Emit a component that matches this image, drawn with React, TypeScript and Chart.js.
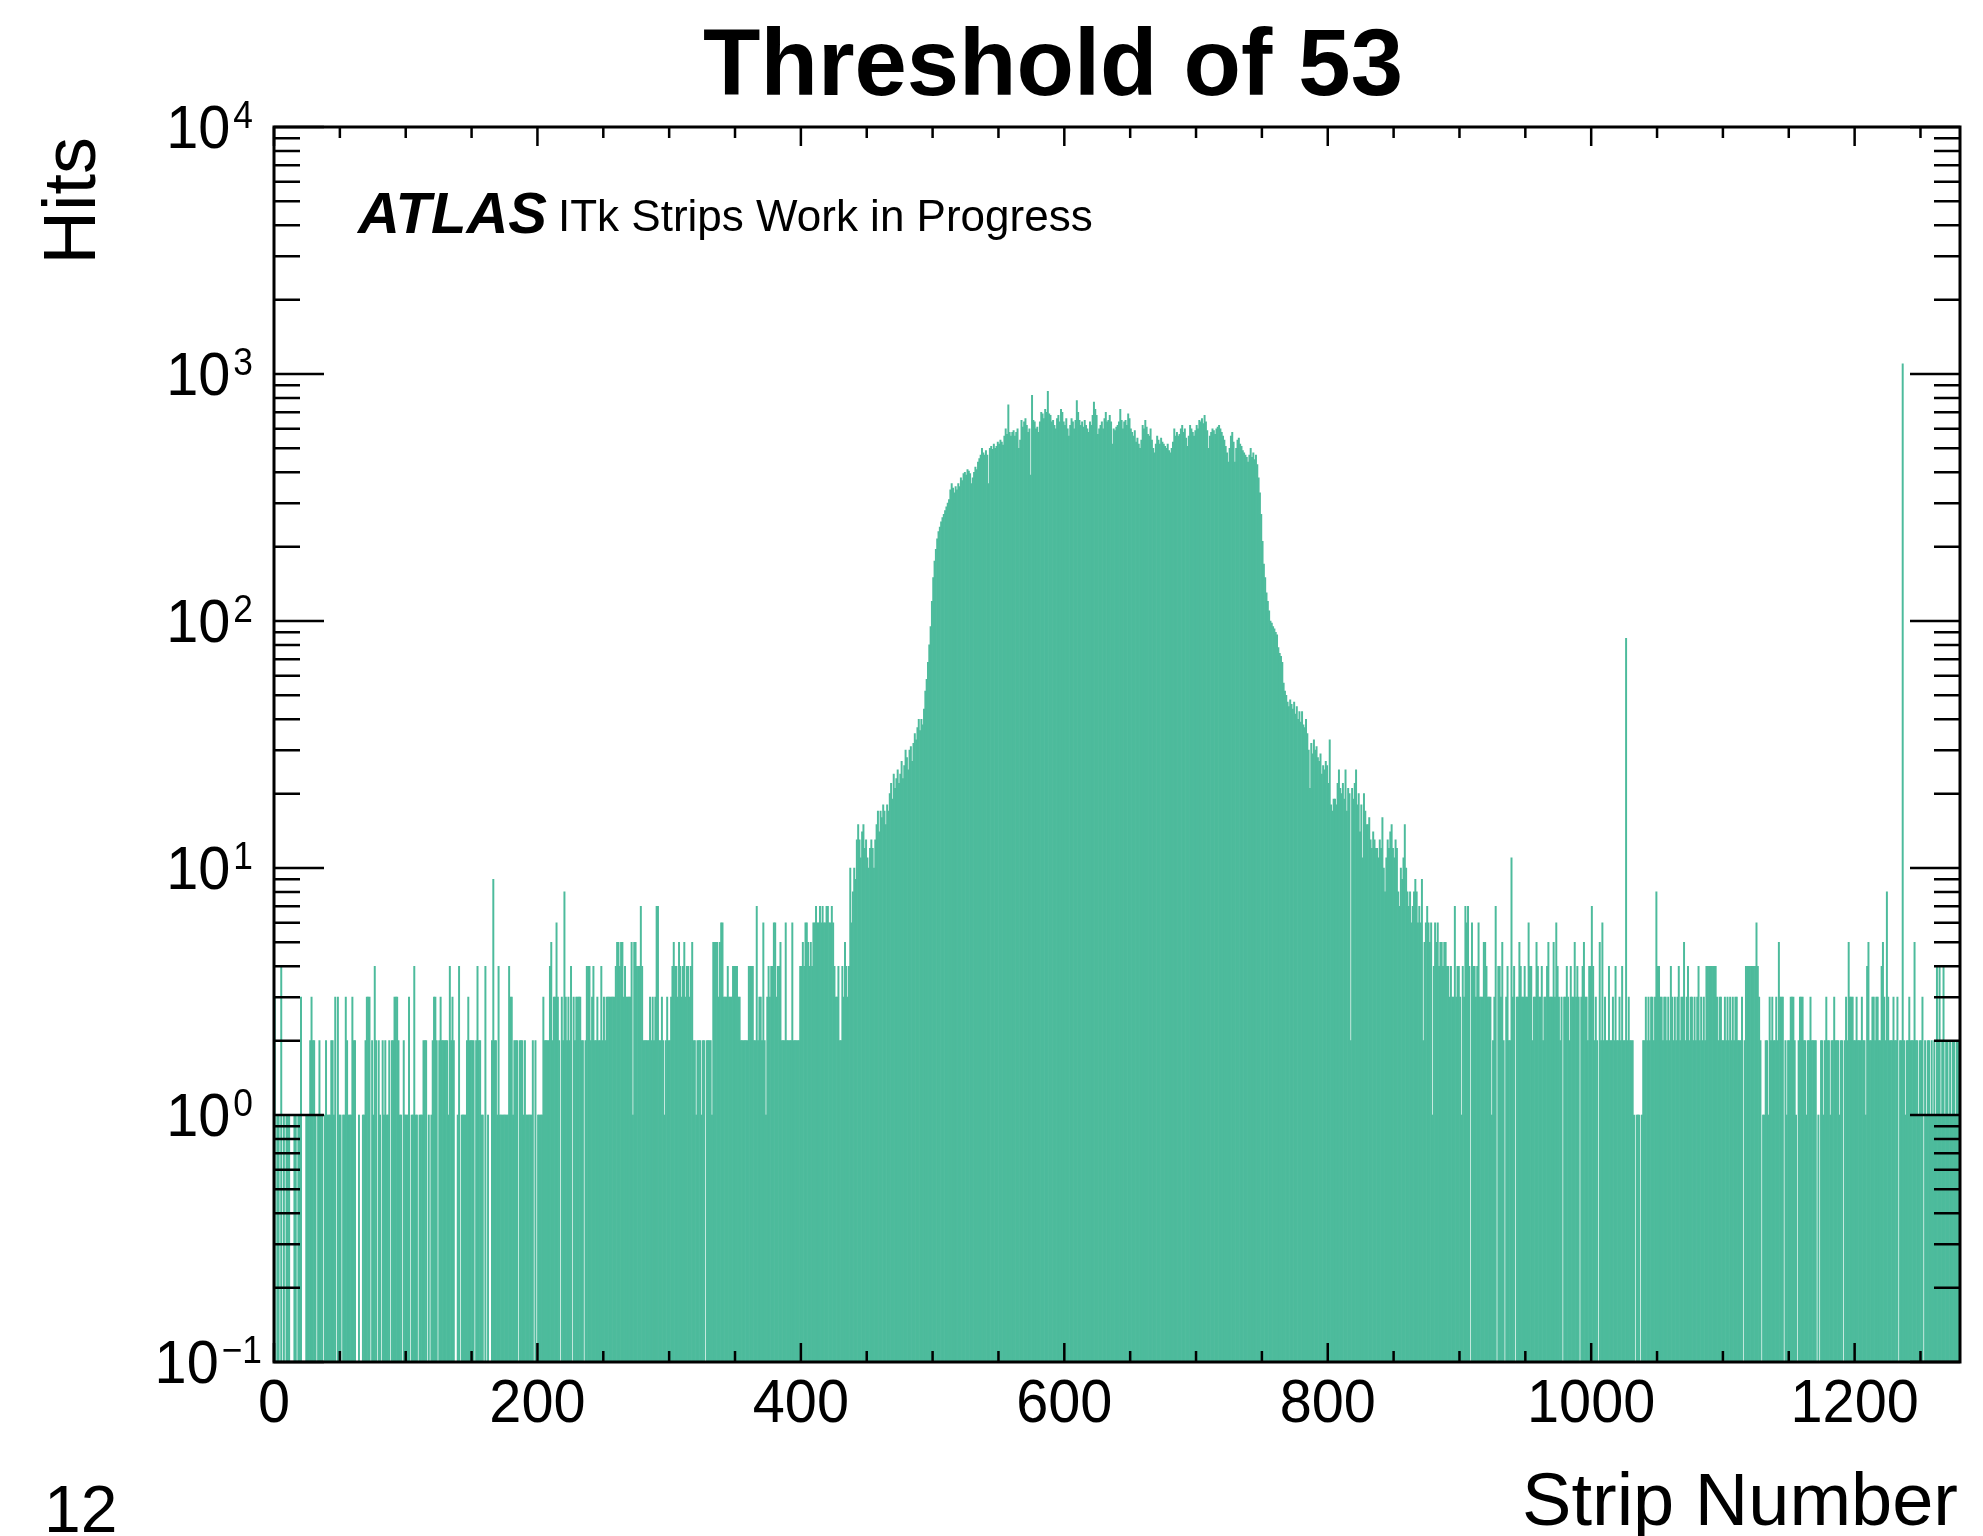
import React, { useEffect, useRef } from 'react';
import { Chart, registerables } from 'chart.js';

Chart.register(...registerables);

// ---- Hits per strip (bin i covers strip [i, i+1)) ----
// strips 0-249
const hitsA = [
  3, 0, 1, 1, 0, 4, 0, 1, 0, 1,
  1, 1, 0, 0, 0, 1, 1, 0, 1, 1,
  3, 0, 0, 0, 1, 1, 1, 2, 3, 2,
  2, 1, 0, 1, 2, 1, 1, 0, 1, 2,
  1, 1, 1, 2, 2, 1, 3, 0, 3, 1,
  1, 0, 1, 1, 3, 2, 1, 1, 1, 3,
  2, 2, 0, 0, 1, 0, 0, 1, 1, 2,
  3, 3, 3, 0, 2, 1, 4, 2, 0, 2,
  1, 0, 2, 1, 2, 1, 1, 2, 0, 2,
  2, 3, 3, 3, 2, 1, 1, 0, 2, 1,
  1, 1, 3, 0, 1, 1, 4, 1, 1, 0,
  1, 1, 1, 2, 2, 2, 0, 1, 0, 1,
  2, 3, 3, 2, 0, 2, 3, 2, 2, 2,
  2, 2, 1, 4, 2, 3, 2, 0, 0, 1,
  4, 0, 1, 1, 1, 1, 2, 3, 2, 2,
  2, 2, 0, 2, 4, 2, 2, 1, 1, 0,
  4, 0, 1, 0, 0, 2, 9, 2, 2, 1,
  4, 1, 1, 1, 1, 1, 1, 1, 4, 3,
  3, 1, 2, 2, 2, 0, 2, 2, 2, 1,
  2, 1, 1, 1, 1, 1, 2, 0, 2, 0,
  1, 1, 1, 1, 3, 2, 2, 2, 2, 4,
  5, 2, 3, 3, 6, 3, 2, 0, 3, 2,
  8, 3, 2, 3, 2, 4, 0, 3, 2, 3,
  3, 3, 3, 2, 2, 0, 2, 4, 4, 4,
  2, 3, 4, 2, 2, 3, 2, 2, 4, 2,
];

// strips 250-499
const hitsB = [
  3, 2, 3, 3, 3, 3, 3, 3, 3, 4,
  5, 5, 4, 5, 5, 3, 4, 3, 3, 3,
  3, 5, 1, 5, 5, 4, 4, 4, 7, 4,
  2, 2, 2, 2, 2, 3, 2, 3, 2, 3,
  7, 7, 2, 2, 3, 2, 1, 2, 3, 2,
  2, 3, 4, 5, 4, 4, 3, 5, 4, 3,
  4, 5, 3, 4, 4, 3, 4, 5, 2, 2,
  1, 2, 2, 2, 1, 2, 2, 0, 2, 2,
  2, 2, 1, 5, 5, 5, 5, 3, 5, 6,
  6, 3, 3, 3, 4, 3, 3, 3, 4, 4,
  4, 4, 3, 3, 2, 2, 2, 2, 2, 2,
  4, 4, 4, 4, 2, 2, 7, 2, 3, 3,
  2, 6, 2, 1, 3, 4, 3, 4, 4, 6,
  6, 3, 4, 4, 5, 2, 2, 2, 6, 2,
  2, 2, 2, 6, 2, 2, 2, 2, 2, 4,
  4, 5, 4, 6, 6, 5, 4, 5, 4, 6,
  6, 7, 6, 6, 7, 6, 7, 6, 6, 7,
  7, 6, 6, 7, 6, 4, 3, 3, 4, 2,
  2, 4, 3, 5, 4, 3, 4, 10, 6, 8,
  10, 9, 13, 15, 13, 11, 14, 15, 12, 13,
  11, 10, 12, 13, 12, 10, 13, 15, 17, 14,
  17, 16, 18, 17, 15, 18, 17, 20, 22, 19,
  24, 21, 23, 25, 22, 24, 27, 23, 26, 30,
  28, 25, 30, 31, 27, 32, 35, 33, 37, 40,
  36, 40, 38, 44, 52, 58, 68, 80, 95, 120,
];

// strips 500-749
const hitsC = [
  150, 175, 195, 215, 230, 240, 252, 262, 270, 280,
  290, 300, 310, 340, 360, 345, 330, 350, 340, 360,
  350, 380, 370, 395, 400, 390, 410, 405, 395, 360,
  380, 400, 420, 410, 440, 455, 470, 500, 480, 470,
  490, 470, 360, 500, 510, 495, 520, 500, 510, 530,
  520, 540, 530, 515, 560, 600, 570, 750, 580, 560,
  580, 590, 560, 580, 600, 500, 540, 650, 610, 640,
  660, 620, 580, 600, 390, 820, 650, 640, 600, 610,
  580, 640, 700, 690, 660, 720, 700, 850, 690, 680,
  640, 650, 620, 600, 660, 680, 640, 720, 700, 640,
  620, 660, 600, 560, 620, 660, 640, 600, 650, 780,
  700, 650, 620, 640, 610, 650, 620, 600, 580, 640,
  620, 680, 770, 720, 680, 570, 600, 620, 640, 600,
  660, 700, 640, 650, 680, 640, 520, 600, 590, 610,
  620, 640, 720, 650, 600, 640, 650, 620, 690, 660,
  600, 580, 560, 590, 530, 550, 520, 500, 540, 620,
  600, 650, 610, 570, 560, 600, 540, 500, 480, 520,
  560, 540, 520, 550, 530, 520, 510, 500, 520, 490,
  480, 500, 530, 600, 560, 580, 560, 570, 600, 620,
  580, 600, 550, 510, 560, 620, 600, 580, 560, 590,
  620, 600, 650, 640, 660, 630, 680, 640, 590, 500,
  560, 580, 600, 590, 570, 600, 610, 620, 600, 580,
  560, 540, 510, 480, 440, 500, 560, 580, 530, 440,
  500, 540, 550, 520, 510, 490, 480, 470, 460, 440,
  470, 500, 460, 480, 450, 470, 430, 380, 330, 270,
];

// strips 750-999
const hitsD = [
  210, 170, 150, 130, 120, 110, 100, 98, 95, 93,
  90, 88, 78, 74, 72, 68, 56, 52, 50, 47,
  45, 48, 46, 44, 47, 42, 45, 40, 43, 39,
  43, 38, 37, 40, 35, 30, 21, 32, 29, 33,
  30, 31, 28, 27, 29, 24, 26, 25, 27, 26,
  22, 33, 18, 17, 19, 19, 18, 22, 25, 21,
  20, 22, 19, 25, 17, 21, 20, 2, 21, 19,
  22, 25, 18, 20, 14, 18, 11, 20, 17, 15,
  15, 16, 13, 12, 14, 13, 12, 12, 11, 13,
  12, 16, 10, 8, 11, 13, 12, 14, 15, 12,
  11, 13, 12, 8, 7, 10, 9, 11, 15, 10,
  8, 7, 8, 6, 7, 8, 9, 8, 6, 7,
  6, 9, 2, 5, 6, 7, 6, 5, 6, 1,
  4, 6, 5, 6, 4, 5, 5, 4, 5, 5,
  4, 4, 3, 4, 3, 3, 7, 3, 4, 4,
  3, 1, 4, 3, 7, 6, 7, 4, 0, 6,
  4, 4, 3, 4, 6, 3, 3, 3, 5, 5,
  4, 3, 3, 3, 1, 2, 3, 7, 0, 4,
  4, 3, 5, 2, 0, 3, 4, 2, 2, 11,
  3, 4, 0, 3, 3, 5, 4, 3, 3, 4,
  3, 3, 6, 4, 4, 2, 3, 3, 5, 4,
  3, 3, 4, 2, 3, 3, 4, 5, 3, 3,
  3, 5, 3, 6, 4, 3, 2, 3, 0, 3,
  3, 4, 3, 2, 4, 3, 3, 5, 3, 4,
  3, 0, 3, 4, 5, 3, 3, 2, 4, 4,
];

// strips 1000-1279
const hitsE = [
  7, 4, 2, 3, 2, 0, 5, 2, 6, 2,
  3, 2, 2, 4, 2, 2, 3, 2, 4, 2,
  2, 3, 2, 4, 2, 2, 85, 2, 3, 2,
  2, 2, 1, 0, 1, 1, 1, 0, 1, 2,
  2, 3, 2, 3, 2, 3, 3, 2, 3, 8,
  4, 4, 3, 3, 2, 3, 3, 2, 3, 2,
  4, 3, 2, 3, 2, 3, 4, 2, 3, 3,
  5, 2, 3, 4, 2, 3, 3, 2, 3, 2,
  3, 4, 2, 3, 2, 3, 2, 4, 4, 4,
  4, 4, 4, 4, 4, 3, 2, 3, 3, 2,
  2, 3, 2, 3, 2, 3, 2, 3, 2, 3,
  3, 2, 2, 2, 3, 0, 2, 4, 4, 4,
  4, 4, 4, 4, 4, 6, 4, 3, 2, 0,
  1, 1, 2, 2, 1, 3, 2, 3, 2, 2,
  3, 2, 5, 3, 3, 3, 0, 2, 1, 2,
  2, 3, 3, 3, 2, 1, 0, 2, 3, 3,
  3, 2, 2, 1, 2, 2, 3, 2, 2, 2,
  2, 0, 1, 0, 2, 2, 1, 2, 3, 2,
  2, 1, 2, 2, 3, 2, 2, 2, 1, 2,
  2, 0, 2, 3, 2, 5, 3, 3, 3, 2,
  2, 3, 2, 2, 2, 3, 2, 2, 1, 4,
  5, 2, 2, 3, 3, 2, 3, 3, 2, 2,
  4, 5, 3, 2, 8, 3, 2, 2, 2, 3,
  2, 2, 3, 0, 2, 2, 1100, 2, 1, 2,
  2, 3, 2, 2, 2, 5, 2, 2, 1, 2,
  2, 3, 0, 2, 1, 2, 2, 1, 2, 1,
  2, 1, 4, 2, 4, 1, 2, 4, 1, 2,
  2, 1, 2, 1, 2, 2, 1, 2, 2, 1,
];

const stripHits: number[] = [...hitsA, ...hitsB, ...hitsC, ...hitsD, ...hitsE];

const xMajorTickValues = [0, 200, 400, 600, 800, 1000, 1200];
const xTickLabels = ['0', '200', '400', '600', '800', '1000', '1200'];
const yDecadeExponents = [-1, 0, 1, 2, 3, 4];

const TITLE = 'Threshold of 53';
const X_TITLE = 'Strip Number';
const Y_TITLE = 'Hits';
const ATLAS_LABEL = 'ATLAS';
const ATLAS_SUFFIX = 'ITk Strips Work in Progress';
const PAGE_NUMBER = '12';

const FONT = '"Liberation Sans", Arial, Helvetica, sans-serif';
const BAR_COLOR = '#4dbb9c';
const CONDENSE = 0.93;

function drawCondensed(ctx: CanvasRenderingContext2D, text: string, x: number, y: number, align: CanvasTextAlign) {
  ctx.save();
  ctx.translate(x, y);
  ctx.scale(CONDENSE, 1);
  ctx.textAlign = align;
  ctx.fillText(text, 0, 0);
  ctx.restore();
}

const rootStylePlugin = {
  id: 'rootStyle',
  afterDraw(chart: any) {
    const ctx: CanvasRenderingContext2D = chart.ctx;
    const a = chart.chartArea;
    const xs = chart.scales.x;
    const ys = chart.scales.y;
    ctx.save();

    // tick marks (inside the frame, ROOT style)
    ctx.strokeStyle = '#000';
    ctx.lineWidth = 2.5;
    ctx.beginPath();
    for (const e of yDecadeExponents) {
      for (let m = 1; m <= 9; m++) {
        const v = m * Math.pow(10, e);
        if (v < ys.min * 0.999 || v > ys.max * 1.001) continue;
        const py = ys.getPixelForValue(v);
        const len = m === 1 ? 50 : 26;
        ctx.moveTo(a.left, py);
        ctx.lineTo(a.left + len, py);
        ctx.moveTo(a.right, py);
        ctx.lineTo(a.right - len, py);
      }
    }
    for (let v = 0; v <= xs.max; v += 50) {
      const px = xs.getPixelForValue(v);
      const len = v % 200 === 0 ? 19 : 11;
      ctx.moveTo(px, a.bottom);
      ctx.lineTo(px, a.bottom - len);
      ctx.moveTo(px, a.top);
      ctx.lineTo(px, a.top + len);
    }
    ctx.stroke();

    ctx.lineWidth = 3;
    ctx.strokeRect(a.left, a.top, a.right - a.left, a.bottom - a.top);

    ctx.fillStyle = '#000';
    ctx.textBaseline = 'alphabetic';

    // x tick labels
    ctx.font = `62px ${FONT}`;
    xMajorTickValues.forEach((v, i) => {
      drawCondensed(ctx, xTickLabels[i], xs.getPixelForValue(v), a.bottom + 60, 'center');
    });

    // y tick labels 10^n
    for (const e of yDecadeExponents) {
      const py = ys.getPixelForValue(Math.pow(10, e));
      const expText = e < 0 ? '\u2212' + String(-e) : String(e);
      ctx.font = `38px ${FONT}`;
      const wExp = ctx.measureText(expText).width * CONDENSE;
      const rightEdge = e < 0 ? a.left - 12 : a.left - 21;
      drawCondensed(ctx, expText, rightEdge - wExp, py + 1, 'left');
      ctx.font = `62px ${FONT}`;
      drawCondensed(ctx, '10', rightEdge - wExp - 3, py + 21, 'right');
    }

    // title
    ctx.font = `bold 94px ${FONT}`;
    ctx.textAlign = 'center';
    ctx.fillText(TITLE, 1053, 95);

    // axis titles
    ctx.font = `74px ${FONT}`;
    ctx.textAlign = 'right';
    ctx.fillText(X_TITLE, a.right - 2, 1525);

    ctx.save();
    ctx.translate(95, a.top + 10);
    ctx.rotate(-Math.PI / 2);
    ctx.textAlign = 'right';
    ctx.fillText(Y_TITLE, 0, 0);
    ctx.restore();

    // ATLAS label
    ctx.textAlign = 'left';
    ctx.font = `italic bold 58px ${FONT}`;
    ctx.fillText(ATLAS_LABEL, 358, 233);
    ctx.font = `44px ${FONT}`;
    ctx.fillText(ATLAS_SUFFIX, 558, 231);

    // page number
    ctx.font = `66px ${FONT}`;
    ctx.fillText(PAGE_NUMBER, 44, 1532);

    ctx.restore();
  },
};

export default function App() {
  const canvasRef = useRef<HTMLCanvasElement | null>(null);

  useEffect(() => {
    const canvas = canvasRef.current;
    if (!canvas) return;
    const points = stripHits.map((v, i) => ({ x: i + 0.5, y: v }));
    const chart = new Chart(canvas, {
      type: 'bar',
      data: {
        datasets: [
          {
            data: points as any,
            backgroundColor: BAR_COLOR,
            borderWidth: 0,
            barPercentage: 1,
            categoryPercentage: 1,
            grouped: false,
          } as any,
        ],
      },
      options: {
        animation: false,
        responsive: false,
        devicePixelRatio: 1,
        layout: { padding: { left: 274, top: 127, right: 23, bottom: 174 } },
        plugins: {
          legend: { display: false },
          tooltip: { enabled: false },
          title: { display: false },
        },
        scales: {
          x: { type: 'linear', min: 0, max: 1280, display: false, offset: false },
          y: { type: 'logarithmic', min: 0.1, max: 10000, display: false },
        },
      } as any,
      plugins: [rootStylePlugin],
    });
    return () => chart.destroy();
  }, []);

  return (
    <div style={{ position: 'absolute', left: 0, top: 0, width: 1983, height: 1536, background: '#fff' }}>
      <canvas ref={canvasRef} width={1983} height={1536} style={{ display: 'block' }} />
    </div>
  );
}
